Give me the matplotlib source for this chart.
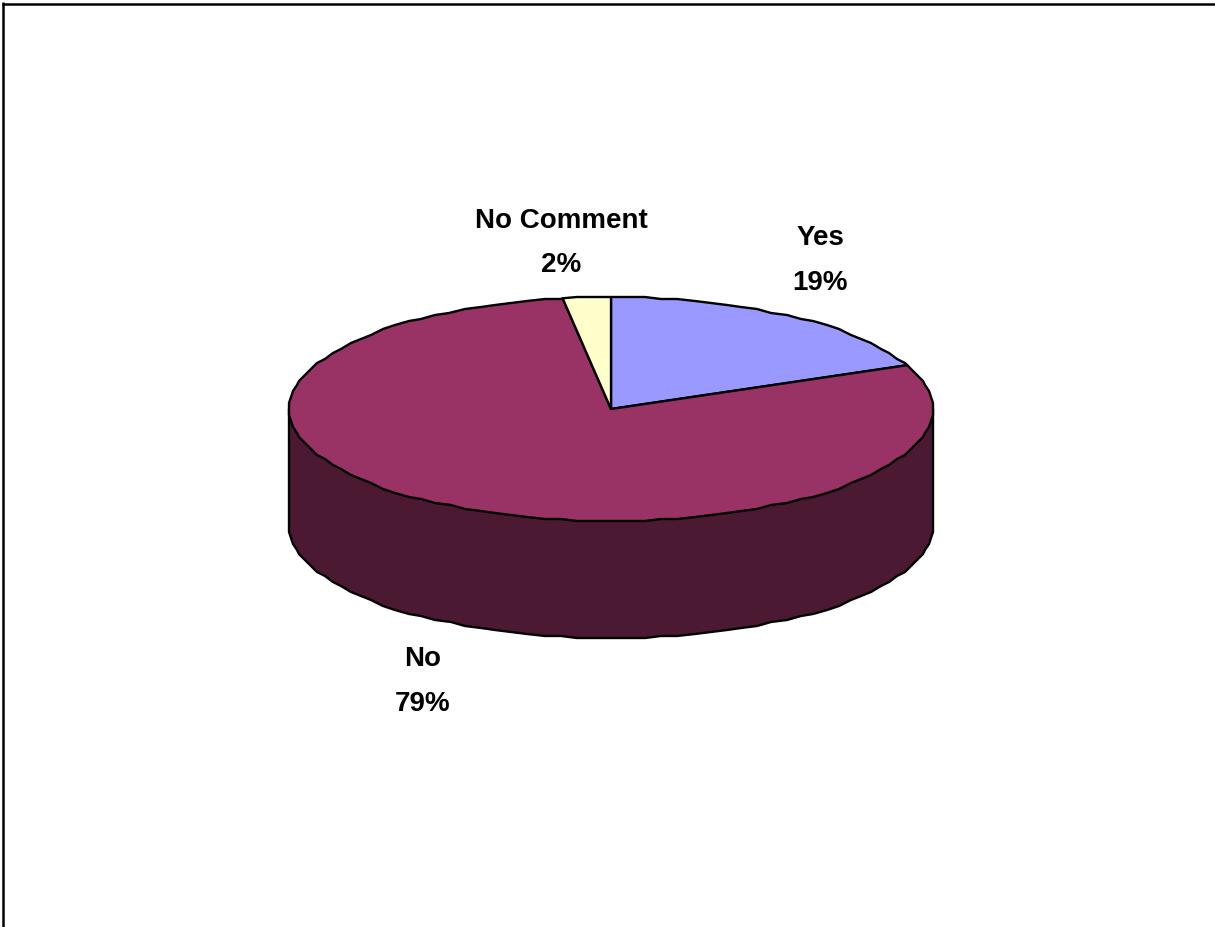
import numpy as np
import matplotlib
matplotlib.use("Agg")
import matplotlib.pyplot as plt
from matplotlib.patches import Polygon

# Survey answers, in percent, clockwise from twelve o'clock
categories = ["Yes", "No", "No Comment"]
values = [18.6, 79.0, 2.4]
top_colors = ["#9999FF", "#993366", "#FFFFCC"]
side_color = "#4C1933"

# Label anchors for each category (x, y of block centre, pixels)
label_x = [820, 423, 561]
label_y = [261, 682, 243]

W, H = 1215, 928
CX, CY, RX, RY, DEPTH = 611, 410, 322, 112, 117
EDGE = 1.7
GRID_X, GRID_Y = 2, 2

plt.rcParams["font.family"] = ["Liberation Sans", "DejaVu Sans"]

fig = plt.figure(figsize=(W / 100, H / 100), dpi=100, facecolor="white")
ax = fig.add_axes([0, 0, 1, 1])
ax.set_xlim(0, W)
ax.set_ylim(H, 0)
ax.axis("off")


def rim(a0, a1, cy, step=3.0):
    """Stepped points on an ellipse, angles clockwise from twelve o'clock."""
    lo, hi = min(a0, a1), max(a0, a1)
    inner = np.arange(np.ceil(lo / step) * step, hi, step)
    deg = np.unique(np.concatenate([[lo], inner, [hi]]))
    if a0 > a1:
        deg = deg[::-1]
    t = np.radians(deg)
    x = CX + RX * np.sin(t)
    y = cy - RY * np.cos(t)
    qx = CX + np.round((x - CX) / GRID_X) * GRID_X
    qy = cy + np.round((y - cy) / GRID_Y) * GRID_Y
    pts = np.column_stack([np.clip(qx, CX - RX, CX + RX), qy])
    pts[0] = [x[0], y[0]]
    pts[-1] = [x[-1], y[-1]]
    return pts


# Outer wall of the disc: the upper edge is hidden behind the top face
front_bottom = rim(270, 90, CY + DEPTH)
wall = np.vstack([[CX + RX, CY], [CX - RX, CY], front_bottom])
ax.add_patch(Polygon(wall, closed=True, facecolor=side_color, edgecolor="black",
                     linewidth=EDGE, joinstyle="round"))

# Top face, one wedge per category
edges = np.concatenate([[0], np.cumsum(values)]) / np.sum(values) * 360
for a0, a1, color in zip(edges[:-1], edges[1:], top_colors):
    pts = np.vstack([[CX, CY], rim(a0, a1, CY)])
    ax.add_patch(Polygon(pts, closed=True, facecolor=color, edgecolor="black",
                         linewidth=EDGE, joinstyle="round"))

# Category name above its rounded percentage
for name, value, x, y in zip(categories, values, label_x, label_y):
    ax.text(x, y, f"{name}\n{round(value)}%", ha="center", va="center",
            fontsize=20, fontweight="bold", color="black", linespacing=1.95)

# Chart frame shows on the top and left edges only
ax.plot([3, 3], [H, 3], color="black", lw=1.8, solid_capstyle="butt", clip_on=False)
ax.plot([2, W], [4.5, 4.5], color="black", lw=1.8, solid_capstyle="butt", clip_on=False)

fig.savefig("out.png", dpi=100, facecolor="white")
